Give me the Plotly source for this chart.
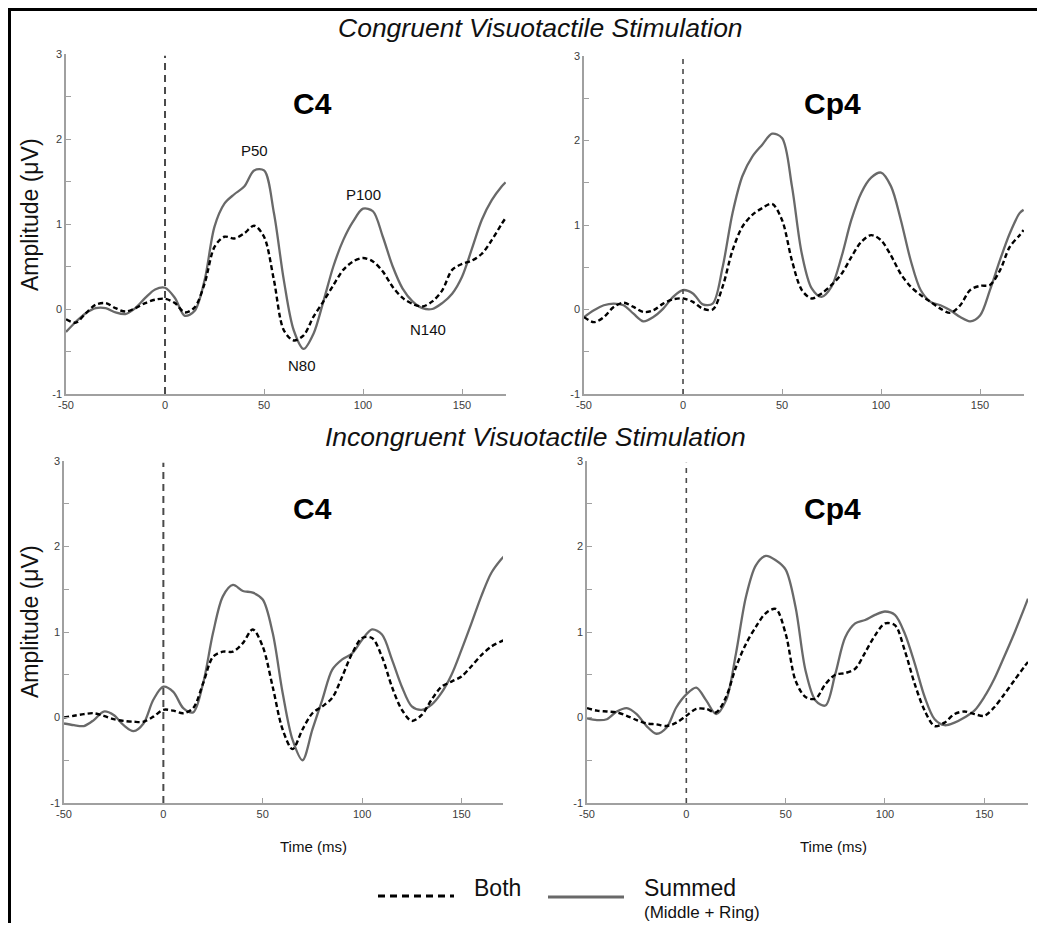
import plotly.graph_objects as go

# ---------------- data ----------------
time_ms = [-50, -45, -40, -35, -30, -25, -20, -15, -10, -5, 0, 5, 10, 15, 20, 25, 30, 35, 40, 45,
           50, 55, 60, 65, 70, 75, 80, 85, 90, 95, 100, 105, 110, 115, 120, 125, 130, 135, 140, 145,
           150, 155, 160, 165, 170, 172]

cong_c4_summed = [-0.27, -0.15, -0.05, 0.01, 0.01, -0.04, -0.06, 0.01, 0.13, 0.23, 0.25, 0.13, -0.08, -0.02,
                  0.34, 0.97, 1.24, 1.35, 1.44, 1.63, 1.63, 1.13, 0.34, -0.25, -0.47, -0.29, 0.09, 0.50,
                  0.81, 1.03, 1.18, 1.15, 0.85, 0.50, 0.24, 0.09, 0.01, 0.00, 0.07, 0.18, 0.38, 0.71,
                  1.05, 1.28, 1.44, 1.49]
cong_c4_both = [-0.12, -0.16, -0.05, 0.05, 0.07, 0.01, -0.03, 0.01, 0.07, 0.11, 0.12, 0.07, -0.04, 0.02,
                0.30, 0.73, 0.85, 0.83, 0.89, 0.98, 0.85, 0.34, -0.25, -0.37, -0.31, -0.09, 0.09, 0.28,
                0.46, 0.56, 0.60, 0.56, 0.44, 0.26, 0.13, 0.06, 0.03, 0.09, 0.22, 0.46, 0.53, 0.57,
                0.65, 0.81, 1.00, 1.07]

cong_cp4_summed = [-0.09, -0.01, 0.05, 0.07, 0.05, -0.05, -0.14, -0.09, 0.01, 0.15, 0.23, 0.19, 0.06, 0.07,
                   0.50, 1.14, 1.58, 1.81, 1.95, 2.08, 2.03, 1.46, 0.66, 0.25, 0.15, 0.27, 0.62, 1.06,
                   1.38, 1.56, 1.62, 1.46, 1.06, 0.58, 0.23, 0.09, 0.05, -0.01, -0.09, -0.14, -0.07, 0.23,
                   0.58, 0.90, 1.14, 1.18]
cong_cp4_both = [-0.09, -0.15, -0.09, 0.03, 0.08, 0.03, -0.03, -0.01, 0.07, 0.12, 0.13, 0.09, 0.01, 0.00,
                 0.27, 0.70, 0.98, 1.12, 1.20, 1.25, 1.06, 0.58, 0.23, 0.13, 0.19, 0.29, 0.42, 0.62,
                 0.80, 0.88, 0.82, 0.64, 0.42, 0.27, 0.17, 0.09, 0.01, -0.04, 0.05, 0.23, 0.28, 0.29,
                 0.46, 0.74, 0.88, 0.94]

incong_c4_summed = [-0.07, -0.09, -0.10, -0.03, 0.07, 0.03, -0.09, -0.16, -0.07, 0.21, 0.36, 0.30, 0.11, 0.06,
                    0.40, 0.99, 1.42, 1.55, 1.48, 1.46, 1.38, 0.99, 0.29, -0.26, -0.50, -0.14, 0.21, 0.56,
                    0.68, 0.75, 0.91, 1.03, 0.97, 0.68, 0.36, 0.13, 0.09, 0.15, 0.29, 0.50, 0.79, 1.10,
                    1.42, 1.69, 1.85, 1.90]
incong_c4_both = [0.00, 0.02, 0.04, 0.05, 0.02, -0.02, -0.04, -0.05, -0.05, 0.01, 0.09, 0.08, 0.05, 0.11,
                  0.40, 0.71, 0.77, 0.77, 0.87, 1.03, 0.83, 0.36, -0.14, -0.37, -0.14, 0.05, 0.13, 0.23,
                  0.48, 0.75, 0.93, 0.93, 0.71, 0.36, 0.09, -0.04, 0.03, 0.21, 0.36, 0.42, 0.48, 0.60,
                  0.73, 0.83, 0.89, 0.91]

incong_cp4_summed = [-0.01, -0.03, -0.02, 0.07, 0.11, 0.04, -0.10, -0.19, -0.12, 0.12, 0.27, 0.35, 0.20, 0.04,
                     0.20, 0.75, 1.41, 1.78, 1.89, 1.84, 1.73, 1.29, 0.55, 0.20, 0.14, 0.51, 0.94, 1.10,
                     1.14, 1.20, 1.24, 1.20, 0.98, 0.63, 0.24, -0.02, -0.09, -0.06, 0.00, 0.08, 0.24, 0.45,
                     0.71, 0.98, 1.27, 1.39]
incong_cp4_both = [0.11, 0.08, 0.07, 0.06, 0.02, -0.03, -0.07, -0.08, -0.10, -0.06, 0.02, 0.10, 0.10, 0.06,
                   0.24, 0.59, 0.86, 1.06, 1.22, 1.27, 0.98, 0.43, 0.24, 0.22, 0.39, 0.50, 0.52, 0.57,
                   0.76, 0.96, 1.10, 1.08, 0.78, 0.39, 0.08, -0.10, -0.06, 0.04, 0.07, 0.04, 0.02, 0.12,
                   0.27, 0.43, 0.59, 0.65]

x_ticks = [-50, 0, 50, 100, 150]
x_tick_labels = ["-50", "0", "50", "100", "150"]
y_ticks = [-1, 0, 1, 2, 3]
y_tick_labels = ["-1", "0", "1", "2", "3"]

panel_labels = ["C4", "Cp4", "C4", "Cp4"]
section_titles = ["Congruent Visuotactile Stimulation", "Incongruent Visuotactile Stimulation"]
series_names = ["Both", "Summed"]

# ---------------- layout helpers ----------------
# the page body has an 8px margin, so the figure is drawn at (8, 8) in the window
OFF = 8
W = 1045 - 2 * OFF
H = 915
def px(x):
    return (x - OFF) / W
def py(y):
    return 1 - (y - OFF) / H

FONT = "Liberation Sans, Arial, sans-serif"
SUM_COLOR = "#696969"
BOTH_COLOR = "#000000"
AXIS_COLOR = "#a0a0a0"
TICK_FONT = dict(family=FONT, size=11, color="#3c3c3c")

# panel geometry in window pixels: (x0, x1, ytop, ybottom, xmax)
panels = [
    (66, 506, 54, 394, 172.2),
    (584, 1024, 56, 394, 172.2),
    (64, 503, 461, 803, 170.9),
    (587, 1028, 461, 803, 172.0),
]
panel_data = [
    (cong_c4_both, cong_c4_summed),
    (cong_cp4_both, cong_cp4_summed),
    (incong_c4_both, incong_c4_summed),
    (incong_cp4_both, incong_cp4_summed),
]

fig = go.Figure()
layout_axes = {}
shapes = []
annotations = []

for i, ((x0, x1, yt, yb, xmax), (both, summed)) in enumerate(zip(panels, panel_data)):
    n = i + 1
    xa = "x" if n == 1 else f"x{n}"
    ya = "y" if n == 1 else f"y{n}"
    fig.add_trace(go.Scatter(x=time_ms, y=summed, mode="lines", name=series_names[1],
                             line=dict(color=SUM_COLOR, width=2.3, shape="spline", smoothing=0.9),
                             xaxis=xa, yaxis=ya, showlegend=False))
    fig.add_trace(go.Scatter(x=time_ms, y=both, mode="lines", name=series_names[0],
                             line=dict(color=BOTH_COLOR, width=2.4, dash="5px,3px", shape="spline", smoothing=0.9),
                             xaxis=xa, yaxis=ya, showlegend=False))
    xkey = "xaxis" if n == 1 else f"xaxis{n}"
    ykey = "yaxis" if n == 1 else f"yaxis{n}"
    layout_axes[xkey] = dict(
        domain=[px(x0), px(x1)], range=[-50, xmax], anchor=ya, automargin=False,
        showline=True, linecolor=AXIS_COLOR, linewidth=1.5, showgrid=False, zeroline=False,
        tickmode="array", tickvals=x_ticks, ticktext=x_tick_labels,
        ticks="inside", ticklen=5, tickcolor=AXIS_COLOR, tickwidth=1,
        tickfont=TICK_FONT, fixedrange=True,
    )
    layout_axes[ykey] = dict(
        domain=[py(yb), py(yt)], range=[-1, 3], anchor=xa, automargin=False,
        showline=True, linecolor=AXIS_COLOR, linewidth=1.5, showgrid=False, zeroline=False,
        tickmode="array", tickvals=y_ticks, ticktext=y_tick_labels,
        ticks="inside", ticklen=5, tickcolor=AXIS_COLOR, tickwidth=1,
        minor=dict(dtick=0.5, ticks="inside", ticklen=5, tickcolor=AXIS_COLOR, tickwidth=1, showgrid=False),
        tickfont=TICK_FONT, fixedrange=True,
    )
    # stimulus onset dashed line
    shapes.append(dict(type="line", xref=xa, yref=ya, x0=0, x1=0, y0=-1, y1=2.98,
                       line=dict(color="#4a4a4a", width=2 if n % 2 == 1 else 1.6,
                                 dash="7px,5px" if n % 2 == 1 else "5px,5px")))
    # panel label
    annotations.append(dict(x=px(312.5 if n % 2 == 1 else 832.5), y=py(103 if n <= 2 else 509),
                            xref="paper", yref="paper",
                            text=f"<b>{panel_labels[i]}</b>", showarrow=False,
                            font=dict(family=FONT, size=30, color="#000000"),
                            xanchor="center", yanchor="middle"))

# section titles
annotations.append(dict(x=px(540.5), y=py(28), xref="paper", yref="paper", text=f"<i>{section_titles[0]}</i>",
                        showarrow=False, font=dict(family=FONT, size=26.5, color="#111111"),
                        xanchor="center", yanchor="middle"))
annotations.append(dict(x=px(535), y=py(437), xref="paper", yref="paper", text=f"<i>{section_titles[1]}</i>",
                        showarrow=False, font=dict(family=FONT, size=26.5, color="#111111"),
                        xanchor="center", yanchor="middle"))

# y-axis titles
for yc in (215, 622):
    annotations.append(dict(x=px(30), y=py(yc), xref="paper", yref="paper", text="Amplitude (μV)",
                            showarrow=False, textangle=-90, font=dict(family=FONT, size=23, color="#111111"),
                            xanchor="center", yanchor="middle"))
# x-axis titles
for xc in (313, 833):
    annotations.append(dict(x=px(xc), y=py(846), xref="paper", yref="paper", text="Time (ms)",
                            showarrow=False, font=dict(family=FONT, size=15, color="#111111"),
                            xanchor="center", yanchor="middle"))

# component labels on top-left panel
for txt, tx, ty in [("P50", 45, 1.86), ("P100", 100, 1.35), ("N80", 69, -0.66), ("N140", 133, -0.24)]:
    annotations.append(dict(x=tx, y=ty, xref="x", yref="y", text=txt, showarrow=False,
                            font=dict(family=FONT, size=15, color="#111111"),
                            xanchor="center", yanchor="middle"))

# legend
shapes.append(dict(type="line", xref="paper", yref="paper", x0=px(378), x1=px(454), y0=py(896), y1=py(896),
                   line=dict(color=BOTH_COLOR, width=3, dash="7px,5px")))
shapes.append(dict(type="line", xref="paper", yref="paper", x0=px(548), x1=px(624), y0=py(897), y1=py(897),
                   line=dict(color=SUM_COLOR, width=3)))
annotations.append(dict(x=px(472), y=py(888), xref="paper", yref="paper", text=series_names[0],
                        showarrow=False, font=dict(family=FONT, size=23, color="#111111"),
                        xanchor="left", yanchor="middle"))
annotations.append(dict(x=px(642), y=py(888), xref="paper", yref="paper", text=series_names[1],
                        showarrow=False, font=dict(family=FONT, size=23, color="#111111"),
                        xanchor="left", yanchor="middle"))
annotations.append(dict(x=px(642), y=py(912), xref="paper", yref="paper", text="(Middle + Ring)",
                        showarrow=False, font=dict(family=FONT, size=17, color="#111111"),
                        xanchor="left", yanchor="middle"))

# outer frame (top and left)
shapes.append(dict(type="line", xref="paper", yref="paper", x0=0, x1=1, y0=py(9.5), y1=py(9.5),
                   line=dict(color="#000000", width=3)))
shapes.append(dict(type="line", xref="paper", yref="paper", x0=px(9.5), x1=px(9.5), y0=1, y1=0,
                   line=dict(color="#000000", width=3)))

fig.update_layout(
    width=W, height=H, margin=dict(l=0, r=0, t=0, b=0, pad=0, autoexpand=False),
    paper_bgcolor="white", plot_bgcolor="white",
    showlegend=False, shapes=shapes, annotations=annotations,
    font=dict(family=FONT),
    **layout_axes,
)

fig.write_html("out.html")
